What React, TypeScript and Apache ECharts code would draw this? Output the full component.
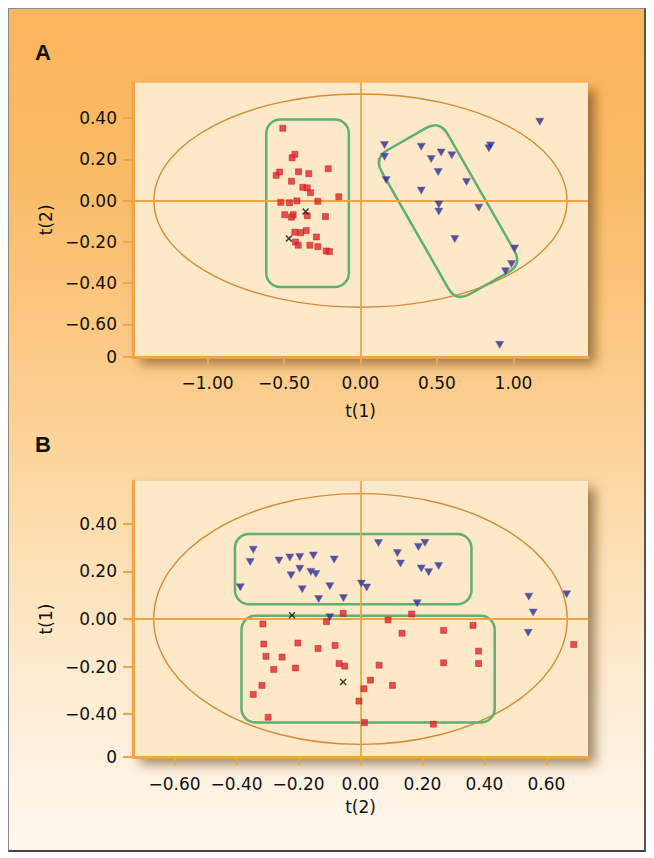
import React, { useEffect, useRef } from "react";
import * as echarts from "echarts";

// ---------- Panel A : t(2) vs t(1) ----------
const redA = [
  [-0.508, 0.351], [-0.447, 0.208], [-0.429, 0.225], [-0.551, 0.123], [-0.529, 0.139],
  [-0.405, 0.14], [-0.338, 0.131], [-0.211, 0.155], [-0.451, 0.094], [-0.377, 0.065],
  [-0.348, 0.062], [-0.327, 0.039], [-0.142, 0.019], [-0.521, -0.008], [-0.464, -0.01],
  [-0.416, -0.001], [-0.279, -0.003], [-0.495, -0.068], [-0.44, -0.068], [-0.451, -0.08],
  [-0.348, -0.073], [-0.229, -0.077], [-0.429, -0.153], [-0.392, -0.155], [-0.355, -0.145],
  [-0.288, -0.176], [-0.425, -0.201], [-0.407, -0.216], [-0.331, -0.216], [-0.279, -0.223],
  [-0.224, -0.244], [-0.203, -0.247],
];
const blueA = [
  [0.157, 0.27], [0.157, 0.213], [0.168, 0.1], [0.397, 0.262], [0.462, 0.202],
  [0.527, 0.233], [0.597, 0.22], [0.508, 0.139], [0.397, 0.049], [0.693, 0.091],
  [0.512, -0.018], [0.512, -0.053], [0.773, -0.034], [0.616, -0.186], [0.839, 0.254],
  [0.85, 0.268], [1.172, 0.383], [1.007, -0.232], [0.987, -0.307], [0.948, -0.342],
  [0.91, -0.699],
];
const crossA = [[-0.359, -0.053], [-0.468, -0.184]];
const xRangeA = [-1.487, 1.487];
const yRangeA = [-0.758, 0.572];
const xTicksA = [-1, -0.5, 0, 0.5, 1];
const xTickLabelsA = ["\u22121.00", "\u22120.50", "0.00", "0.50", "1.00"];
const yTicksA = [-0.758, -0.6, -0.4, -0.2, 0, 0.2, 0.4];
const yTickLabelsA = ["0", "\u22120.60", "\u22120.40", "\u22120.20", "0.00", "0.20", "0.40"];
const ellipseA = [[0, 0, 1.35, 0.517]];
const rectsA = [[-0.616, -0.418, -0.076, 0.394]];
const tiltedRectsA = [[0.087, 0.207, 0.518, 0.39, 1.057, -0.309, 0.625, -0.491]];

// ---------- Panel B : t(1) vs t(2) ----------
const blueB = [
  [-0.346, 0.291], [-0.356, 0.24], [-0.388, 0.133], [-0.263, 0.246], [-0.228, 0.258],
  [-0.196, 0.261], [-0.152, 0.267], [-0.085, 0.25], [-0.224, 0.184], [-0.196, 0.211],
  [-0.16, 0.198], [-0.144, 0.189], [-0.188, 0.125], [-0.099, 0.138], [-0.135, 0.084],
  [-0.055, 0.088], [0.003, 0.149], [0.02, 0.132], [0.058, 0.319], [0.119, 0.277],
  [0.129, 0.233], [0.187, 0.303], [0.208, 0.32], [0.196, 0.212], [0.22, 0.197],
  [0.252, 0.223], [0.183, 0.066], [-0.099, 0.007], [0.543, 0.094], [0.557, 0.027],
  [0.541, -0.058], [0.665, 0.104],
];
const redB = [
  [-0.056, 0.024], [-0.11, -0.011], [0.165, 0.021], [0.089, -0.004], [-0.315, -0.021],
  [0.134, -0.06], [0.268, -0.048], [0.363, -0.027], [-0.312, -0.105], [-0.202, -0.101],
  [-0.137, -0.124], [-0.082, -0.111], [-0.305, -0.157], [-0.253, -0.16], [0.381, -0.135],
  [0.688, -0.107], [-0.28, -0.212], [-0.21, -0.206], [-0.069, -0.187], [-0.051, -0.198],
  [0.06, -0.194], [0.268, -0.184], [0.381, -0.187], [-0.318, -0.279], [-0.346, -0.317],
  [0.032, -0.257], [0.011, -0.293], [0.103, -0.279], [-0.005, -0.345], [-0.298, -0.413],
  [0.013, -0.435], [0.235, -0.442],
];
const crossB = [[-0.221, 0.016], [-0.056, -0.265]];
const xRangeB = [-0.734, 0.734];
const yRangeB = [-0.58, 0.58];
const xTicksB = [-0.6, -0.4, -0.2, 0, 0.2, 0.4, 0.6];
const xTickLabelsB = ["\u22120.60", "\u22120.40", "\u22120.20", "0.00", "0.20", "0.40", "0.60"];
const yTicksB = [-0.58, -0.4, -0.2, 0, 0.2, 0.4];
const yTickLabelsB = ["0", "\u22120.40", "\u22120.20", "0.00", "0.20", "0.40"];
const ellipseB = [[0, 0, 0.667, 0.527]];
const rectsB = [
  [-0.405, 0.062, 0.358, 0.357],
  [-0.384, -0.435, 0.433, 0.014],
];

const FONT = "'DejaVu Sans', sans-serif";
const AXIS = "#F0A448";
const GREEN = "#5FAF72";
const RED = "#E2262A";
const BLUE = "#2E2B8C";
const CROSS = "path://M0,1.5L1.5,0L5,3.5L8.5,0L10,1.5L6.5,5L10,8.5L8.5,10L5,6.5L1.5,10L0,8.5L3.5,5Z";

function labelFor(ticks: number[], labels: string[]) {
  return (v: number) => {
    const i = ticks.findIndex((t) => Math.abs(t - v) < 1e-6);
    return i >= 0 ? labels[i] : "";
  };
}

function roundedPolyPath(pts: number[][], r: number) {
  let d = "";
  const n = pts.length;
  for (let i = 0; i < n; i++) {
    const c = pts[i];
    const p = pts[(i - 1 + n) % n];
    const q = pts[(i + 1) % n];
    const l1 = Math.hypot(p[0] - c[0], p[1] - c[1]);
    const l2 = Math.hypot(q[0] - c[0], q[1] - c[1]);
    const a = [c[0] + ((p[0] - c[0]) / l1) * r, c[1] + ((p[1] - c[1]) / l1) * r];
    const b = [c[0] + ((q[0] - c[0]) / l2) * r, c[1] + ((q[1] - c[1]) / l2) * r];
    d += (i === 0 ? "M" : "L") + a[0] + "," + a[1] + "Q" + c[0] + "," + c[1] + "," + b[0] + "," + b[1];
  }
  return d + "Z";
}

function xAxisCfg(idx: number, range: number[], ticks: number[], labels: string[], name: string, margin: number, gap: number) {
  return {
    type: "value",
    gridIndex: idx,
    min: range[0],
    max: range[1],
    name,
    nameLocation: "middle",
    nameGap: gap,
    nameTextStyle: { fontFamily: FONT, fontSize: 17, color: "#111" },
    axisLine: { show: true, onZero: false, lineStyle: { color: AXIS, width: 3 } },
    axisTick: { show: true, customValues: ticks, length: 8, lineStyle: { color: AXIS, width: 2 } },
    axisLabel: { customValues: ticks, formatter: labelFor(ticks, labels), margin, fontFamily: FONT, fontSize: 17, color: "#111" },
    splitLine: { show: false },
  };
}

function yAxisCfg(idx: number, range: number[], ticks: number[], labels: string[], name: string, gap: number) {
  return {
    type: "value",
    gridIndex: idx,
    min: range[0],
    max: range[1],
    name,
    nameLocation: "middle",
    nameGap: gap,
    nameTextStyle: { fontFamily: FONT, fontSize: 17, color: "#111" },
    axisLine: { show: true, onZero: false, lineStyle: { color: AXIS, width: 3 } },
    axisTick: { show: true, customValues: ticks, length: 10, lineStyle: { color: AXIS, width: 2 } },
    axisLabel: { customValues: ticks, formatter: labelFor(ticks, labels), margin: 16, fontFamily: FONT, fontSize: 17, color: "#111" },
    splitLine: { show: false },
  };
}

function panelSeries(idx: number, ellipse: number[][], rects: number[][], tilted: number[][], red: number[][], blue: number[][], cross: number[][]) {
  const base = { xAxisIndex: idx, yAxisIndex: idx, silent: true };
  const list: any[] = [
    {
      ...base,
      type: "custom",
      z: 2,
      data: ellipse,
      renderItem: (_p: any, api: any) => {
        const c = api.coord([api.value(0), api.value(1)]);
        const s = api.size([api.value(2), api.value(3)]);
        return { type: "ellipse", shape: { cx: c[0], cy: c[1], rx: s[0], ry: s[1] }, style: { fill: "none", stroke: "#D28C3A", lineWidth: 1.4 } };
      },
      markLine: {
        silent: true,
        symbol: "none",
        label: { show: false },
        lineStyle: { color: AXIS, width: 1.8, type: "solid" },
        data: [{ xAxis: 0 }, { yAxis: 0 }],
      },
    },
    {
      ...base,
      type: "custom",
      z: 3,
      data: rects,
      renderItem: (_p: any, api: any) => {
        const p0 = api.coord([api.value(0), api.value(3)]);
        const p1 = api.coord([api.value(2), api.value(1)]);
        return {
          type: "rect",
          shape: { x: p0[0], y: p0[1], width: p1[0] - p0[0], height: p1[1] - p0[1], r: 14 },
          style: { fill: "none", stroke: GREEN, lineWidth: 2.5 },
        };
      },
    },
  ];
  if (tilted.length) {
    list.push({
      ...base,
      type: "custom",
      z: 3,
      data: tilted,
      renderItem: (_p: any, api: any) => {
        const pts = [0, 2, 4, 6].map((k) => api.coord([api.value(k), api.value(k + 1)]));
        return { type: "path", shape: { pathData: roundedPolyPath(pts, 16) }, style: { fill: "none", stroke: GREEN, lineWidth: 2.5 } };
      },
    });
  }
  list.push(
    { ...base, type: "scatter", z: 5, data: red, symbol: "rect", symbolSize: 6, itemStyle: { color: RED, borderColor: "#B51A1E", borderWidth: 0.6 } },
    { ...base, type: "scatter", z: 5, data: blue, symbol: "triangle", symbolRotate: 180, symbolSize: [8, 7], itemStyle: { color: BLUE, borderColor: "#5A58B0", borderWidth: 0.6 } },
    { ...base, type: "scatter", z: 6, data: cross, symbol: CROSS, symbolSize: 7, itemStyle: { color: "#111" } }
  );
  return list;
}

const gridStyle = {
  show: true,
  backgroundColor: "#FDE8C7",
  borderWidth: 0,
  shadowColor: "rgba(95,60,15,0.6)",
  shadowBlur: 12,
  shadowOffsetX: 7,
  shadowOffsetY: 7,
};

export default function App() {
  const ref = useRef<HTMLDivElement>(null);
  useEffect(() => {
    if (!ref.current) return;
    const chart = echarts.init(ref.current, undefined, { renderer: "svg" });
    chart.setOption({
      animation: false,
      grid: [
        { ...gridStyle, left: 125, top: 74.7, width: 455, height: 274.3 },
        { ...gridStyle, left: 125, top: 473, width: 455, height: 276 },
      ],
      xAxis: [
        xAxisCfg(0, xRangeA, xTicksA, xTickLabelsA, "t(1)", 17, 45),
        xAxisCfg(1, xRangeB, xTicksB, xTickLabelsB, "t(2)", 18, 41),
      ],
      yAxis: [
        yAxisCfg(0, yRangeA, yTicksA, yTickLabelsA, "t(2)", 76),
        yAxisCfg(1, yRangeB, yTicksB, yTickLabelsB, "t(1)", 76),
      ],
      graphic: [
        { type: "text", left: 27, top: 33, style: { text: "A", font: "bold 22px 'Liberation Sans', Arial, sans-serif", fill: "#111" } },
        { type: "text", left: 27, top: 425, style: { text: "B", font: "bold 22px 'Liberation Sans', Arial, sans-serif", fill: "#111" } },
      ],
      series: [
        ...panelSeries(0, ellipseA, rectsA, tiltedRectsA, redA, blueA, crossA),
        ...panelSeries(1, ellipseB, rectsB, [], redB, blueB, crossB),
      ],
    });
    return () => chart.dispose();
  }, []);
  return (
    <div
      style={{
        position: "relative",
        width: 638,
        height: 844,
        background: "linear-gradient(to bottom, #FBB55B 0%, #FBBB66 20%, #FCCD8E 45%, #FDDAA6 58%, #FEE9CB 76%, #FFF8EF 100%)",
      }}
    >
      <div ref={ref} style={{ position: "absolute", left: 0, top: 0, width: 638, height: 844 }} />
      <div
        style={{
          position: "absolute",
          left: 0,
          top: 0,
          width: 638,
          height: 844,
          boxSizing: "border-box",
          borderTop: "1px solid #8a8a8a",
          borderLeft: "1px solid #8a8a8a",
          borderRight: "2px solid #555",
          borderBottom: "2px solid #444",
          pointerEvents: "none",
        }}
      />
    </div>
  );
}
